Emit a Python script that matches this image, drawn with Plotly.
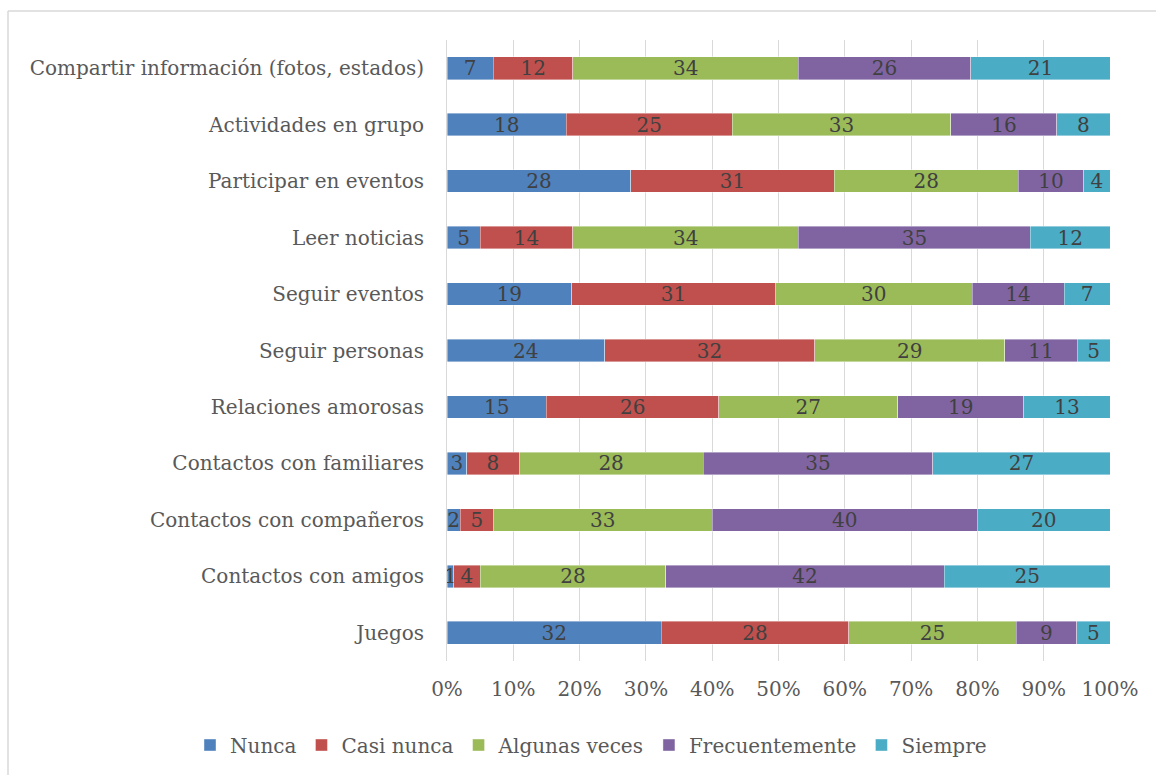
import plotly.graph_objects as go

categories = [
    "Compartir información (fotos, estados)",
    "Actividades en grupo",
    "Participar en eventos",
    "Leer noticias",
    "Seguir eventos",
    "Seguir personas",
    "Relaciones amorosas",
    "Contactos con familiares",
    "Contactos con compañeros",
    "Contactos con amigos",
    "Juegos",
]
nunca = [7, 18, 28, 5, 19, 24, 15, 3, 2, 1, 32]
casi_nunca = [12, 25, 31, 14, 31, 32, 26, 8, 5, 4, 28]
algunas_veces = [34, 33, 28, 34, 30, 29, 27, 28, 33, 28, 25]
frecuentemente = [26, 16, 10, 35, 14, 11, 19, 35, 40, 42, 9]
siempre = [21, 8, 4, 12, 7, 5, 13, 27, 20, 25, 5]

series = [
    ("Nunca", nunca, "#4F81BD"),
    ("Casi nunca", casi_nunca, "#C0504D"),
    ("Algunas veces", algunas_veces, "#9BBB59"),
    ("Frecuentemente", frecuentemente, "#8064A2"),
    ("Siempre", siempre, "#4BACC6"),
]

FONT = "DejaVu Serif, serif"
FS = 20
W, H = 1156, 775
L, R, T, B = 447, 46, 40, 114

fig = go.Figure()
for name, vals, color in series:
    fig.add_trace(go.Bar(
        y=categories, x=vals, name=name, orientation="h",
        marker=dict(color=color, line=dict(color="rgba(255,255,255,0.5)", width=0.8)),
        text=[str(v) for v in vals], textposition="inside",
        insidetextanchor="middle", textangle=0,
        textfont=dict(family=FONT, size=FS, color="#404040"),
        constraintext="none",
    ))

pw, ph = W - L - R, H - T - B
fig.update_layout(
    width=W, height=H,
    barmode="stack", barnorm="percent", bargap=0.6,
    margin=dict(l=L, r=R, t=T, b=B, autoexpand=False),
    plot_bgcolor="white", paper_bgcolor="white",
    font=dict(family=FONT, size=FS, color="#595959"),
    uniformtext=dict(minsize=FS, mode="show"),
    xaxis=dict(range=[0, 100], dtick=10, ticksuffix="%", showgrid=True,
               gridcolor="#D9D9D9", gridwidth=1, zeroline=False, showline=False,
               ticklabelstandoff=14, tickfont=dict(size=FS, color="#595959")),
    yaxis=dict(autorange="reversed", showgrid=False, showline=True,
               linecolor="#D9D9D9", linewidth=1, ticklabelstandoff=18,
               tickfont=dict(size=FS, color="#595959")),
    legend=dict(orientation="h", xref="paper", yref="paper",
                x=(190 - L) / pw, xanchor="left",
                y=(T + ph - 745) / ph, yanchor="middle",
                font=dict(size=FS, color="#595959"), traceorder="normal",
                itemwidth=30),
    shapes=[
        dict(type="line", xref="paper", yref="paper",
             x0=(8 - L) / pw, x1=(1156 - L) / pw, y0=1 + (T - 11) / ph, y1=1 + (T - 11) / ph,
             line=dict(color="#D9D9D9", width=1.5)),
        dict(type="line", xref="paper", yref="paper",
             x0=(8 - L) / pw, x1=(8 - L) / pw, y0=1 + (T - 11) / ph, y1=-(B) / ph,
             line=dict(color="#D9D9D9", width=1.5)),
    ],
)
fig.write_html("out.html", config={"displayModeBar": False},
               post_script="document.body.style.margin='0px';document.body.style.overflow='hidden';")
